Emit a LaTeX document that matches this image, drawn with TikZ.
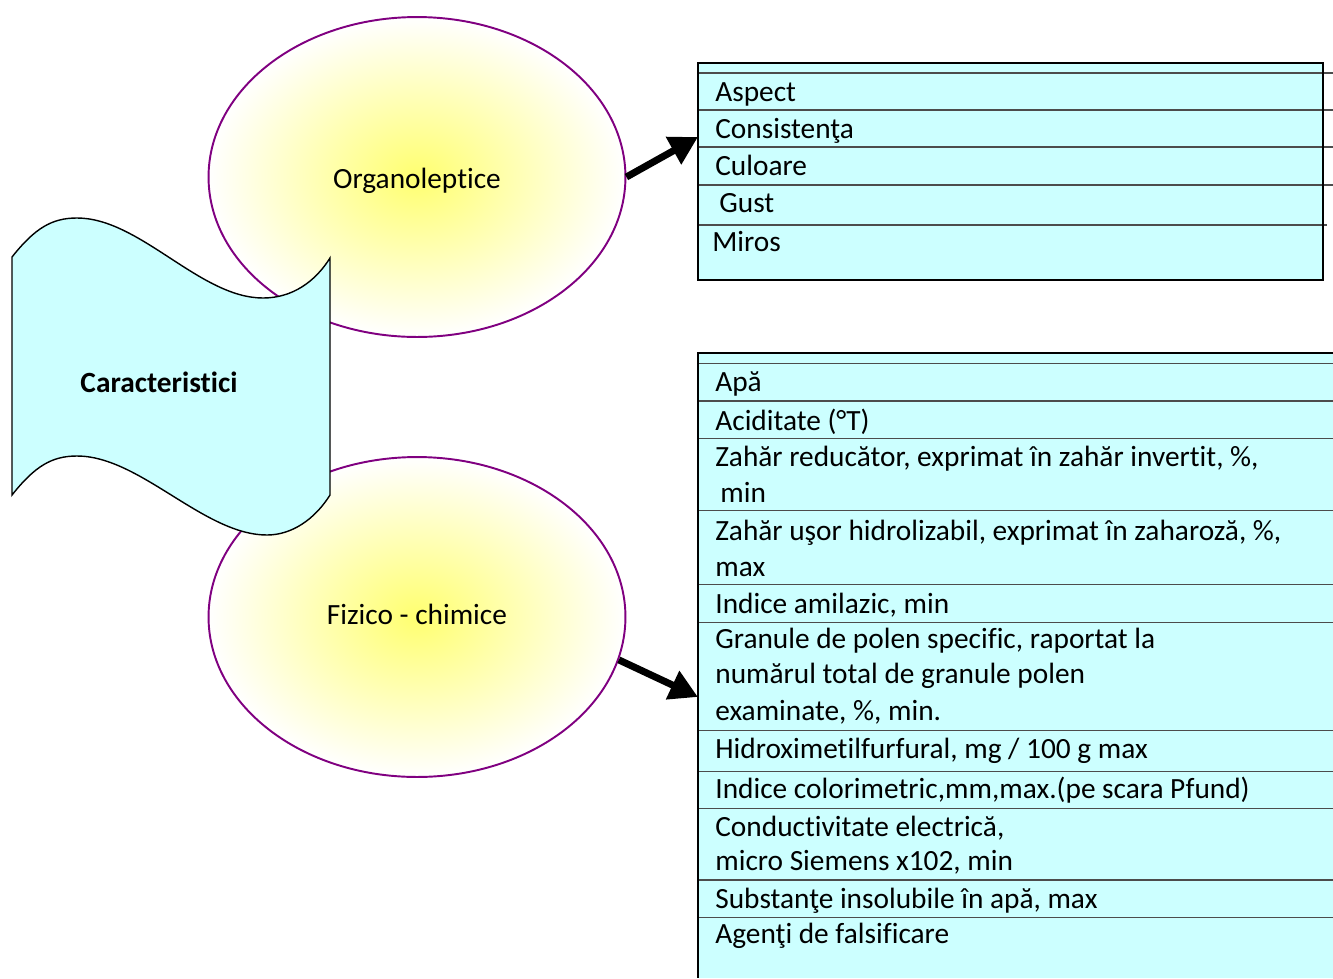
\documentclass[tikz,border=0pt]{standalone}
\usepackage{fontspec}
\setmainfont{Carlito}[Ligatures=NoCommon]
\usetikzlibrary{shapes.geometric, arrows.meta}
\definecolor{celfill}{HTML}{CCFFFF}
\definecolor{ovalline}{HTML}{800080}
\definecolor{ovalcore}{HTML}{FFFF70}

\begin{document}
\begin{tikzpicture}[x=0.02cm, y=-0.02cm, font=\fontsize{16.7}{20.4}\selectfont, oval/.style={ellipse, draw=ovalline, line width=1.1pt, inner color=ovalcore, outer color=white, minimum width=8.34cm, minimum height=6.4cm, inner sep=0pt}, cell/.style={anchor=base west, inner sep=0pt}, rowline/.style={draw=black!70, line width=0.8pt}, frame/.style={draw=black, line width=1.3pt}, edge/.style={line width=4pt, -{Triangle[length=16pt, width=17pt]}}]
		\useasboundingbox (0,0) rectangle (1333,978);

		\node (org)[oval] at (417,177){};
		\node (fiz)[oval] at (417,617){};
		\node (orgtxt) at (417,181){Organoleptice};
		\node (fiztxt) at (417,614){Fizico - chimice};

		% banner
		\draw [fill=celfill, line width=0.8pt] (12,257) .. controls (35,228) and (52,218) .. (77,218) .. controls (140,218) and (200,298) .. (263,298) .. controls (292,298) and (315,282) .. (330,258) -- (330,495) .. controls (315,519) and (292,535) .. (267,535) .. controls (204,535) and (140,456) .. (77,456) .. controls (52,456) and (35,466) .. (12,495) -- cycle;
		\node (car) at (159,382){\textbf{Caracteristici}};

		% upper table
		\fill [celfill] (698,62.7) rectangle (1323,280);
		\foreach \y in {73,110,147,185}
			\draw [rowline] (698,\y) -- (1333,\y);
		\draw [rowline] (698,225) -- (1327,225);
		\draw [frame] (698,62.7) rectangle (1323,280);

		% lower table
		\fill [celfill] (698,352.7) rectangle (1333,978);
		\foreach \y in {363.3,401,438.3,510.7,584.3,622.7,730.7,771.7,808.3,880,917.3}
			\draw [rowline] (698,\y) -- (1333,\y);
		\draw [frame] (1333,352.7) -- (698,352.7) -- (698,978);

		\foreach \i/\x/\y/\t in {1/715/101.7/Aspect, 2/715/138.3/Consistenţa, 3/715/175/Culoare, 4/719/212.7/Gust, 5/712/251.7/Miros}
			\node (a\i)[cell] at (\x,\y){\t};

		\foreach \i/\x/\y/\t in {1/715/391.7/Apă, 2/715/430/{Aciditate (°T)}, 3/715/466.7/{Zahăr reducător, exprimat în zahăr invertit, \%,}, 4/720/502.7/min, 5/715/540/{Zahăr uşor hidrolizabil, exprimat în zaharoză, \%,}, 6/715/576.7/max, 7/715/613.3/{Indice amilazic, min}, 8/715/648/{Granule de polen specific, raportat la}, 9/715/683/{numărul total de granule polen}, 10/715/720/{examinate, \%, min.}, 11/715/758.3/{Hidroximetilfurfural, mg / 100 g max}, 12/715/798/{Indice colorimetric,mm,max.(pe scara Pfund)}, 13/715/836.7/{Conductivitate electrică,}, 14/715/870/{micro Siemens x102, min}, 15/715/908/{Substanţe insolubile în apă, max}, 16/715/943/{Agenţi de falsificare}}
			\node (b\i)[cell] at (\x,\y){\t};

		\coordinate (in1) at (698,137);
		\coordinate (in2) at (698,697);
		\draw [edge](org.east) -- (in1);
		\draw [edge](fiz.-12) -- (in2);
	\end{tikzpicture}
\end{document}
